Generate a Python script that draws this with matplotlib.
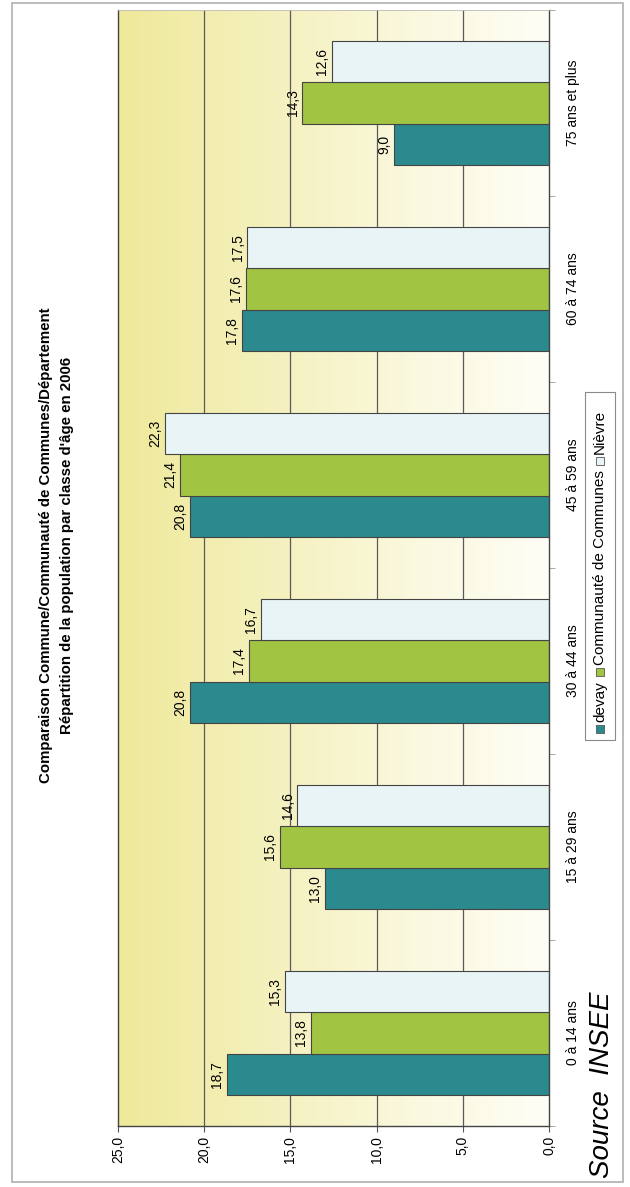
import numpy as np
import matplotlib.pyplot as plt
from matplotlib.colors import LinearSegmentedColormap
from matplotlib.patches import Rectangle

plt.rcParams['font.family'] = ['Liberation Sans', 'DejaVu Sans']

#Data
categories = ["0 à 14 ans", "15 à 29 ans", "30 à 44 ans", "45 à 59 ans", "60 à 74 ans", "75 ans et plus"]
devay = [18.7, 13.0, 20.8, 20.8, 17.8, 9.0]
communaute = [13.8, 15.6, 17.4, 21.4, 17.6, 14.3]
nievre = [15.3, 14.6, 16.7, 22.3, 17.5, 12.6]
seriesNames = ["devay", "Communauté de Communes", "Nièvre"]
valueTicks = [0, 5, 10, 15, 20, 25]

W, H = 630, 1187

def px(x, y):
    #pixel coords (y from top) -> figure fraction
    return x / W, 1 - y / H

def fmt(v):
    return f"{v:.1f}".replace('.', ',')

fig = plt.figure(figsize=(W / 100, H / 100), dpi=100)
fig.patch.set_facecolor('white')

#outer frame
fig.patches.append(Rectangle(px(12, 1182), 611 / W, 1179 / H, transform=fig.transFigure,
                             fill=False, edgecolor='#b0b0b0', linewidth=1.2))

l, b = px(118, 1126)
ax = fig.add_axes([l, b, 431 / W, 1116 / H])

#background gradient
cmap = LinearSegmentedColormap.from_list('bg', ['#efe99a', '#f4f0bb', '#faf8dc', '#fefef6'])
grad = np.linspace(0, 1, 256).reshape(1, -1)
ax.imshow(grad, cmap=cmap, extent=(25, 0, -0.5, 5.5), aspect='auto', zorder=0)

ax.set_xlim(25, 0)
ax.set_ylim(-0.5, 5.5)

for v in valueTicks[1:-1]:
    ax.axvline(v, color='#5a5a5a', linewidth=0.9, zorder=1)

y = np.arange(len(categories))
bw = 0.223
colors = ['#2b8a8e', '#a2c443', '#e8f4f5']
allSeries = [devay, communaute, nievre]
for i, (vals, col) in enumerate(zip(allSeries, colors)):
    pos = y + (i - 1) * bw
    ax.barh(pos, vals, height=bw, color=col, edgecolor='#444444', linewidth=0.8, zorder=2)
    for p, v in zip(pos, vals):
        ax.annotate(fmt(v), xy=(v, p), xytext=(-2, 0), textcoords='offset points',
                    rotation=90, ha='right', va='center', fontsize=10, zorder=3)

#value axis
ax.set_xticks(valueTicks)
ax.set_xticklabels([fmt(v) for v in valueTicks], rotation=90, fontsize=10)
ax.tick_params(axis='x', direction='out', length=4, color='#555555', pad=3)

#category axis on the right
ax.yaxis.tick_right()
ax.set_yticks(y)
ax.set_yticklabels(categories, rotation=90, va='center', fontsize=10)
ax.tick_params(axis='y', which='major', length=0, pad=12)
ax.set_yticks(np.arange(-0.5, 5.6, 1), minor=True)
ax.tick_params(axis='y', which='minor', direction='out', length=4, color='#999999')

for s in ['left', 'bottom', 'right']:
    ax.spines[s].set_color('#444444')
    ax.spines[s].set_linewidth(1.0)
ax.spines['top'].set_color('#bbbbbb')
ax.spines['top'].set_linewidth(0.6)

#title
fig.text(*px(46, 545), "Comparaison Commune/Communauté de Communes/Département",
         rotation=90, ha='center', va='center', fontsize=10.8, fontweight='bold')
fig.text(*px(67, 545), "Répartition de la population par classe d'âge en 2006",
         rotation=90, ha='center', va='center', fontsize=10.8, fontweight='bold')

#legend drawn by hand (rotated)
fig.patches.append(Rectangle(px(585, 740), 30 / W, 348 / H, transform=fig.transFigure,
                             fill=True, facecolor='white', edgecolor='#8a8a8a', linewidth=0.8))
renderer = fig.canvas.get_renderer()
yCur = 733
for name, col in zip(seriesNames, colors):
    fig.patches.append(Rectangle(px(596, yCur), 8 / W, 8 / H, transform=fig.transFigure,
                                 facecolor=col, edgecolor='#555555', linewidth=0.6))
    yCur -= 11
    t = fig.text(*px(600, yCur), name, rotation=90, ha='center', va='bottom', fontsize=11)
    ext = t.get_window_extent(renderer)
    yCur -= ext.height + 5

fig.text(*px(602, 1178), "Source  INSEE", rotation=90, ha='center', va='bottom',
         fontsize=20, style='italic')

fig.savefig('out.png', dpi=100)
